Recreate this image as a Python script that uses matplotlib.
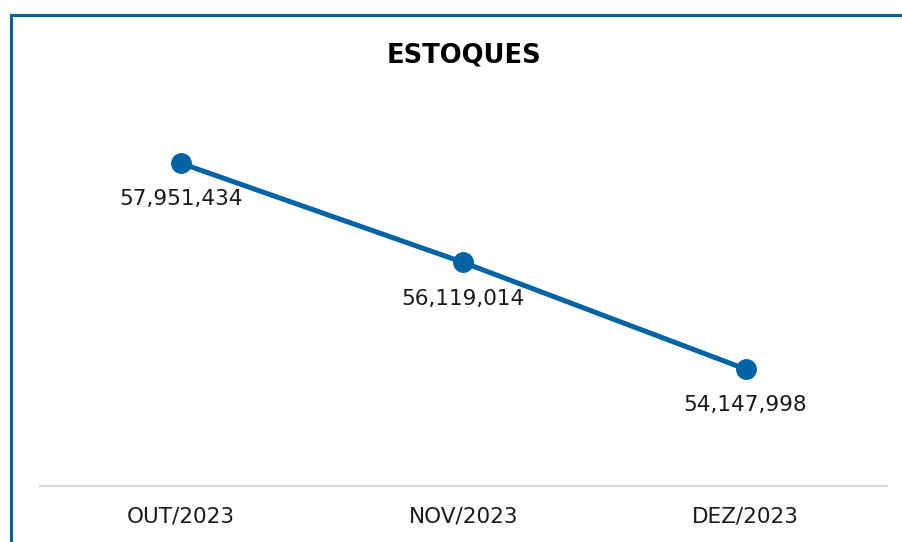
import matplotlib
matplotlib.use('Agg')
import matplotlib.pyplot as plt
from matplotlib.lines import Line2D

# Data
months = ['OUT/2023', 'NOV/2023', 'DEZ/2023']
stock = [57951434, 56119014, 54147998]

blue = '#0063A3'

fig = plt.figure(figsize=(9.03, 5.42), dpi=100)
ax = fig.add_axes([0.0443, 0.1033, 0.9377, 0.73])

x = range(len(months))
ax.plot(x, stock, color=blue, linewidth=3.6, marker='o', markersize=14,
        solid_capstyle='round')

for xi, v in zip(x, stock):
    ax.annotate(f"{v:,}", (xi, v), xytext=(0, -26), textcoords='offset points',
                ha='center', va='center', fontsize=15.5, color='#1a1a1a')

ax.set_xlim(-0.5, 2.5)
ax.set_ylim(51.988e6, 59.30e6)
ax.set_xticks(list(x))
ax.set_xticklabels(months, fontsize=15.5, color='#1a1a1a')
ax.tick_params(axis='x', length=0, pad=15)
ax.set_yticks([])
for s in ['top', 'left', 'right']:
    ax.spines[s].set_visible(False)
ax.spines['bottom'].set_color('#d9d9d9')
ax.spines['bottom'].set_linewidth(1.5)

fig.text(464 / 903, 1 - 55 / 542, 'ESTOQUES', ha='center', va='center',
         fontsize=18.5, fontweight='bold', color='black')

# outer frame (top and left edges)
fig.add_artist(Line2D([11 / 903, 11 / 903], [0, 1 - 15 / 542], color=blue,
                      linewidth=2.2, transform=fig.transFigure))
fig.add_artist(Line2D([11 / 903, 1], [1 - 15 / 542, 1 - 15 / 542], color=blue,
                      linewidth=2.2, transform=fig.transFigure))

fig.savefig('out.png', dpi=100)
